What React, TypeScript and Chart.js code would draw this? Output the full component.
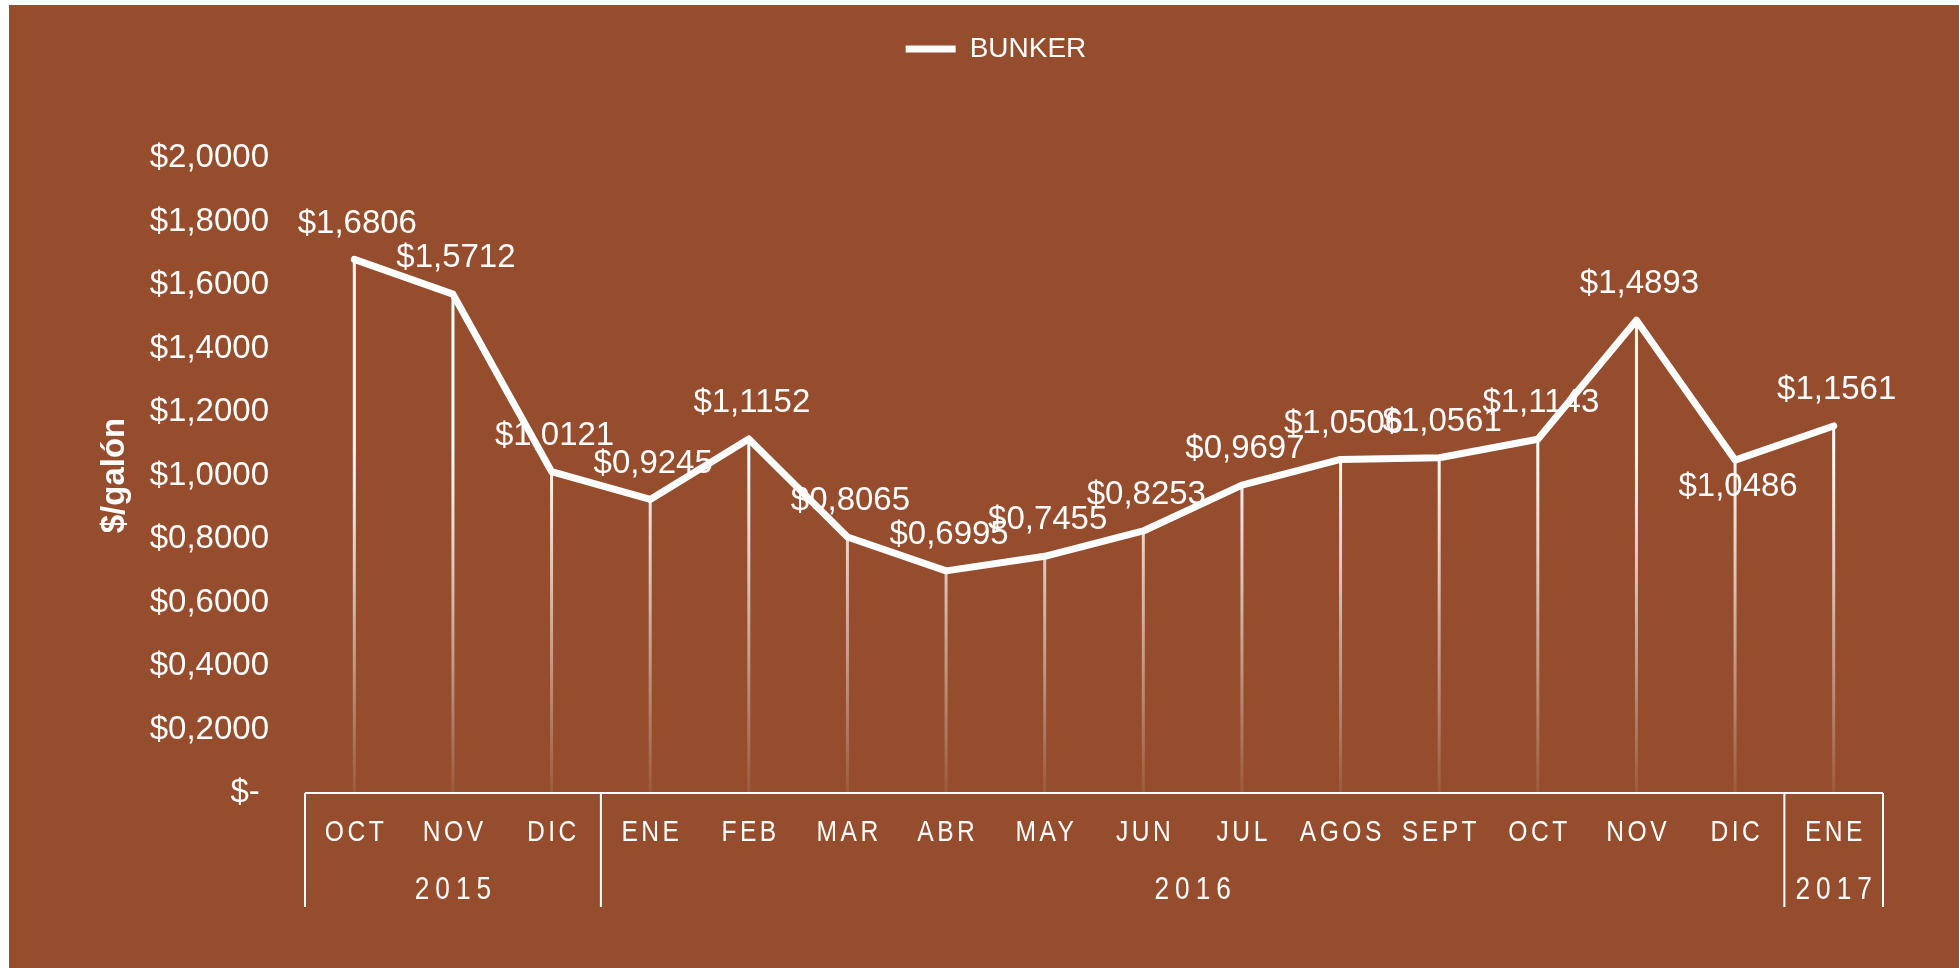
import React, { useEffect, useRef } from 'react';
import { Chart, registerables } from 'chart.js';

Chart.register(...registerables);

// ---- data ----
const months = ['OCT', 'NOV', 'DIC', 'ENE', 'FEB', 'MAR', 'ABR', 'MAY', 'JUN', 'JUL', 'AGOS', 'SEPT', 'OCT', 'NOV', 'DIC', 'ENE'];
const years = ['2015', '2016', '2017'];
const yearSpans = [3, 12, 1];
const bunker = [1.6806, 1.5712, 1.0121, 0.9245, 1.1152, 0.8065, 0.6995, 0.7455, 0.8253, 0.9697, 1.0506, 1.0561, 1.1143, 1.4893, 1.0486, 1.1561];
const labelBelow = [false, false, false, false, false, false, false, false, false, false, false, false, false, false, true, false];
const seriesName = 'BUNKER';
const yTitle = '$/galón';
const yMin = 0;
const yMax = 2;
const yStep = 0.2;

const BG = '#954D2D';
const SANS = "'Liberation Sans', Arial, sans-serif";

const fmt = (v: number) => (Math.abs(v) < 1e-9 ? '$- ' : '$' + v.toFixed(4).replace('.', ','));

const legendHeight = {
  id: 'legendHeight',
  beforeInit(chart: any) {
    const lg = chart.legend;
    if (!lg) return;
    const orig = lg.fit;
    lg.fit = function () {
      orig.call(this);
      this.height = 153;
    };
  },
  afterLayout(chart: any) {
    const lg = chart.legend;
    if (!lg) return;
    lg.left += 50;
    lg.right += 50;
  },
};

const dropLines = {
  id: 'dropLines',
  beforeDatasetsDraw(chart: any) {
    const { ctx } = chart;
    const yScale = chart.scales.y;
    const base = yScale.getPixelForValue(0);
    const meta = chart.getDatasetMeta(0);
    const g = ctx.createLinearGradient(0, 445, 0, base);
    g.addColorStop(0, 'rgba(255,255,255,1)');
    g.addColorStop(1, 'rgba(255,255,255,0.08)');
    ctx.save();
    ctx.strokeStyle = g;
    ctx.lineWidth = 3;
    meta.data.forEach((pt: any) => {
      ctx.beginPath();
      ctx.moveTo(pt.x, pt.y);
      ctx.lineTo(pt.x, base);
      ctx.stroke();
    });
    ctx.restore();
  },
};

const dataLabels = {
  id: 'dataLabels',
  afterDatasetsDraw(chart: any) {
    const { ctx } = chart;
    const meta = chart.getDatasetMeta(0);
    ctx.save();
    ctx.fillStyle = '#ffffff';
    ctx.font = `33px ${SANS}`;
    ctx.textAlign = 'center';
    ctx.textBaseline = 'middle';
    meta.data.forEach((pt: any, i: number) => {
      const y = labelBelow[i] ? pt.y + 27 : pt.y - 36;
      ctx.fillText(fmt(bunker[i]), pt.x + 3, y);
    });
    ctx.restore();
  },
};

const NARROW_SCALE = 0.82;

function drawNarrow(ctx: any, text: string, cx: number, cy: number, size: number, spacing: number) {
  ctx.save();
  ctx.translate(cx + spacing / 2, cy);
  ctx.scale(NARROW_SCALE, 1);
  ctx.font = `${size}px ${SANS}`;
  ctx.letterSpacing = `${spacing / NARROW_SCALE}px`;
  ctx.fillText(text, 0, 0);
  ctx.restore();
}

const multiAxis = {
  id: 'multiAxis',
  afterDraw(chart: any) {
    const { ctx } = chart;
    const x = chart.scales.x;
    const y = chart.scales.y;
    const base = y.getPixelForValue(0);
    const n = months.length;
    const p0 = x.getPixelForValue(0);
    const step = (x.getPixelForValue(n - 1) - p0) / (n - 1);
    const edge = (b: number) => p0 + (b - 0.5) * step;
    ctx.save();
    ctx.strokeStyle = '#ffffff';
    ctx.lineWidth = 2;
    ctx.beginPath();
    ctx.moveTo(edge(0), base);
    ctx.lineTo(edge(n), base);
    ctx.stroke();
    const bounds = [0];
    let acc = 0;
    yearSpans.forEach((s) => {
      acc += s;
      bounds.push(acc);
    });
    bounds.forEach((b) => {
      ctx.beginPath();
      ctx.moveTo(edge(b), base);
      ctx.lineTo(edge(b), base + 114);
      ctx.stroke();
    });
    ctx.fillStyle = '#ffffff';
    ctx.textAlign = 'center';
    ctx.textBaseline = 'middle';
    months.forEach((m, i) => {
      drawNarrow(ctx, m, x.getPixelForValue(i), base + 40, 30, 3.5);
    });
    years.forEach((yr, k) => {
      const cx = (edge(bounds[k]) + edge(bounds[k + 1])) / 2;
      drawNarrow(ctx, yr, cx, base + 97, 32, 6);
    });
    ctx.restore();
  },
};

export default function App() {
  const ref = useRef<HTMLCanvasElement | null>(null);

  useEffect(() => {
    if (!ref.current) return;
    const chart = new Chart(ref.current, {
      type: 'line',
      data: {
        labels: months,
        datasets: [
          {
            label: seriesName,
            data: bunker,
            borderColor: '#ffffff',
            backgroundColor: '#ffffff',
            borderWidth: 7,
            pointRadius: 0,
            pointHoverRadius: 0,
            borderCapStyle: 'round',
            borderJoinStyle: 'round',
            tension: 0,
            fill: false,
          },
        ],
      },
      options: {
        animation: false,
        responsive: false,
        devicePixelRatio: 1,
        layout: { padding: { left: 0, right: 76, top: 0, bottom: 0 } },
        plugins: {
          legend: {
            position: 'top',
            labels: {
              color: '#ffffff',
              font: { family: SANS, size: 28 },
              usePointStyle: true,
              pointStyle: 'line',
              pointStyleWidth: 50,
              padding: 30,
            },
          },
          tooltip: { enabled: false },
        },
        scales: {
          x: {
            type: 'category',
            offset: true,
            grid: { display: false, drawTicks: false },
            border: { display: false },
            ticks: { display: false },
            afterFit(s: any) {
              s.height = 175;
            },
          },
          y: {
            min: yMin,
            max: yMax,
            grid: { display: false, drawTicks: false },
            border: { display: false },
            ticks: {
              stepSize: yStep,
              color: '#ffffff',
              font: { family: SANS, size: 33 },
              padding: 36,
              callback: (v: any) => fmt(Number(v)),
            },
            title: {
              display: true,
              text: yTitle,
              color: '#ffffff',
              font: { family: SANS, size: 33, weight: 'bold' },
              padding: { top: 86, bottom: 0 },
            },
            afterFit(s: any) {
              s.width = 296;
            },
          },
        },
      } as any,
      plugins: [legendHeight, dropLines, dataLabels, multiAxis],
    });
    return () => chart.destroy();
  }, []);

  return (
    <div
      style={{
        position: 'fixed',
        left: 9,
        top: 5,
        width: 1950,
        height: 963,
        background: BG,
      }}
    >
      <canvas ref={ref} width={1950} height={963} style={{ display: 'block' }} />
    </div>
  );
}
